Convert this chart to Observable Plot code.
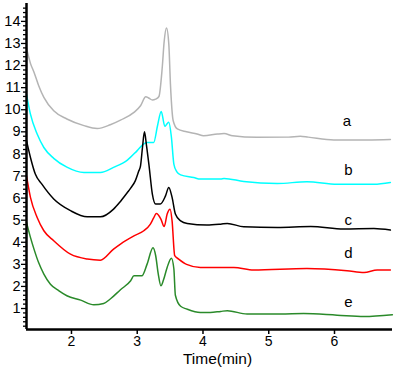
<!DOCTYPE html>
<html>
<head>
<meta charset="utf-8">
<script src="https://cdn.jsdelivr.net/npm/d3@7"></script>
<script src="https://cdn.jsdelivr.net/npm/@observablehq/plot@0.6"></script>
<style>
  html, body { margin: 0; padding: 0; background: #fff; }
  #chart svg { display: block; }
</style>
</head>
<body>
<div id="chart"></div>
<script>
// ---- data ----
const seriesNames = ["a", "b", "c", "d", "e"];
const seriesColors = ["#b4b4b4", "#00ffff", "#000000", "#ff0000", "#2a8a2a"];

const curveA = [[1.316,12.8],[1.376,12.1],[1.43,11.7],[1.5,11.1],[1.58,10.56],[1.73,9.95],[1.93,9.58],[2.19,9.28],[2.39,9.15],[2.59,9.32],[2.745,9.53],[2.95,9.88],[3.05,10.18],[3.13,10.59],[3.18,10.52],[3.23,10.44],[3.28,10.48],[3.33,10.6],[3.38,11.9],[3.41,13.1],[3.445,13.7],[3.48,12.98],[3.505,11.16],[3.547,9.5],[3.61,9.13],[3.75,9.0],[3.91,8.9],[4.01,8.82],[4.22,8.9],[4.32,8.92],[4.45,8.82],[4.82,8.75],[5.3,8.76],[5.48,8.8],[5.6,8.76],[5.99,8.63],[6.5,8.63],[6.85,8.65]];
const curveB = [[1.316,10.7],[1.376,9.8],[1.478,8.9],[1.58,8.29],[1.73,7.8],[1.93,7.4],[2.19,7.16],[2.44,7.16],[2.64,7.39],[2.85,7.72],[3.0,8.15],[3.1,8.45],[3.15,8.52],[3.25,8.52],[3.31,9.3],[3.365,9.92],[3.42,9.25],[3.45,9.35],[3.48,9.43],[3.52,8.75],[3.557,7.54],[3.6,7.2],[3.66,7.05],[3.86,6.93],[3.96,6.86],[4.27,6.86],[4.32,6.89],[4.62,6.75],[5.13,6.66],[5.58,6.74],[6.04,6.63],[6.6,6.63],[6.85,6.71]];
const curveC = [[1.316,8.6],[1.376,7.84],[1.45,7.09],[1.55,6.63],[1.73,5.96],[1.985,5.43],[2.24,5.15],[2.44,5.15],[2.64,5.5],[2.745,5.85],[2.85,6.25],[2.9,6.45],[2.97,6.78],[3.02,7.2],[3.05,7.46],[3.08,8.3],[3.11,9.0],[3.14,8.4],[3.18,7.46],[3.23,6.18],[3.28,5.73],[3.35,5.73],[3.43,6.1],[3.48,6.48],[3.53,6.03],[3.58,5.28],[3.66,4.97],[3.76,4.85],[4.06,4.78],[4.27,4.82],[4.37,4.85],[4.62,4.7],[5.13,4.67],[5.64,4.71],[6.14,4.6],[6.6,4.62],[6.85,4.55]];
const curveD = [[1.316,7.0],[1.376,6.03],[1.478,5.12],[1.58,4.52],[1.73,4.07],[1.985,3.46],[2.24,3.24],[2.44,3.19],[2.64,3.69],[2.745,3.92],[2.95,4.29],[3.1,4.52],[3.2,4.82],[3.25,5.1],[3.29,5.3],[3.36,5.05],[3.41,4.71],[3.455,5.28],[3.5,5.5],[3.53,4.97],[3.57,3.39],[3.63,3.24],[3.75,3.0],[3.96,2.86],[4.47,2.86],[4.77,2.74],[5.58,2.81],[6.19,2.71],[6.45,2.63],[6.65,2.74],[6.85,2.74]];
const curveE = [[1.316,4.9],[1.376,4.22],[1.43,3.69],[1.5,3.08],[1.58,2.56],[1.68,2.1],[1.81,1.8],[1.93,1.58],[2.14,1.38],[2.34,1.17],[2.49,1.23],[2.59,1.43],[2.745,1.85],[2.9,2.26],[2.95,2.48],[3.07,2.48],[3.15,3.01],[3.24,3.75],[3.28,3.4],[3.32,2.56],[3.36,2.03],[3.4,2.3],[3.455,2.86],[3.52,3.28],[3.557,2.8],[3.58,1.6],[3.66,1.1],[3.76,0.97],[3.96,0.82],[4.11,0.82],[4.27,0.87],[4.37,0.9],[4.67,0.75],[5.18,0.75],[5.53,0.77],[6.04,0.7],[6.45,0.64],[6.88,0.72]];

// label positions for a–e
const labelX = [6.19, 6.21, 6.21, 6.21, 6.21];
const labelY = [9.5, 7.25, 5.0, 3.5, 1.3];

// axes
const xDomain = [1.316, 6.882];
const yDomain = [0.05, 14.81];
const xTicks = [2, 3, 4, 5, 6];
const yTicks = [1, 2, 3, 4, 5, 6, 7, 8, 9, 10, 11, 12, 13, 14];
const yMinorTicks = d3.range(1, 74).map(i => +(i * 0.2).toFixed(1)).filter(v => Math.abs(v - Math.round(v)) > 1e-6);
const xLabel = "Time(min)";

// ---- build table ----
const curves = [curveA, curveB, curveC, curveD, curveE];
const rows = [];
curves.forEach((c, i) => c.forEach(([t, v]) => rows.push({series: seriesNames[i], t, v})));
const labels = seriesNames.map((s, i) => ({s, x: labelX[i], y: labelY[i]}));

const chart = Plot.plot({
  width: 397,
  height: 375,
  marginLeft: 26,
  marginRight: 5,
  marginTop: 3,
  marginBottom: 46,
  style: {fontFamily: "'Liberation Sans', Arial, sans-serif", fontSize: "14px", background: "#fff", color: "#000"},
  x: {domain: xDomain},
  y: {domain: yDomain},
  color: {domain: seriesNames, range: seriesColors},
  marks: [
    Plot.line(rows, {x: "t", y: "v", z: "series", stroke: "series", strokeWidth: 1.5, curve: "monotone-x"}),
    Plot.axisY({ticks: yMinorTicks, tickSize: 3, text: null, label: null, strokeWidth: 1.3}),
    Plot.axisY({ticks: yTicks, tickSize: 5, tickPadding: 1, tickFormat: "d", label: null, strokeWidth: 1.3, fontSize: 14.5}),
    Plot.axisX({ticks: xTicks, tickSize: 5, tickPadding: 2, tickFormat: "d", label: null, strokeWidth: 1.5, fontSize: 14}),
    Plot.ruleX([xDomain[0]], {strokeWidth: 2.5}),
    Plot.ruleY([yDomain[0]], {strokeWidth: 2.5}),
    Plot.text(labels, {x: "x", y: "y", text: "s", fontSize: 15, textAnchor: "middle", lineAnchor: "middle"}),
    Plot.text([xLabel], {frameAnchor: "bottom", dx: 8, dy: 30, fontSize: 15.5, lineAnchor: "middle"})
  ]
});
document.getElementById("chart").appendChild(chart);
</script>
</body>
</html>
